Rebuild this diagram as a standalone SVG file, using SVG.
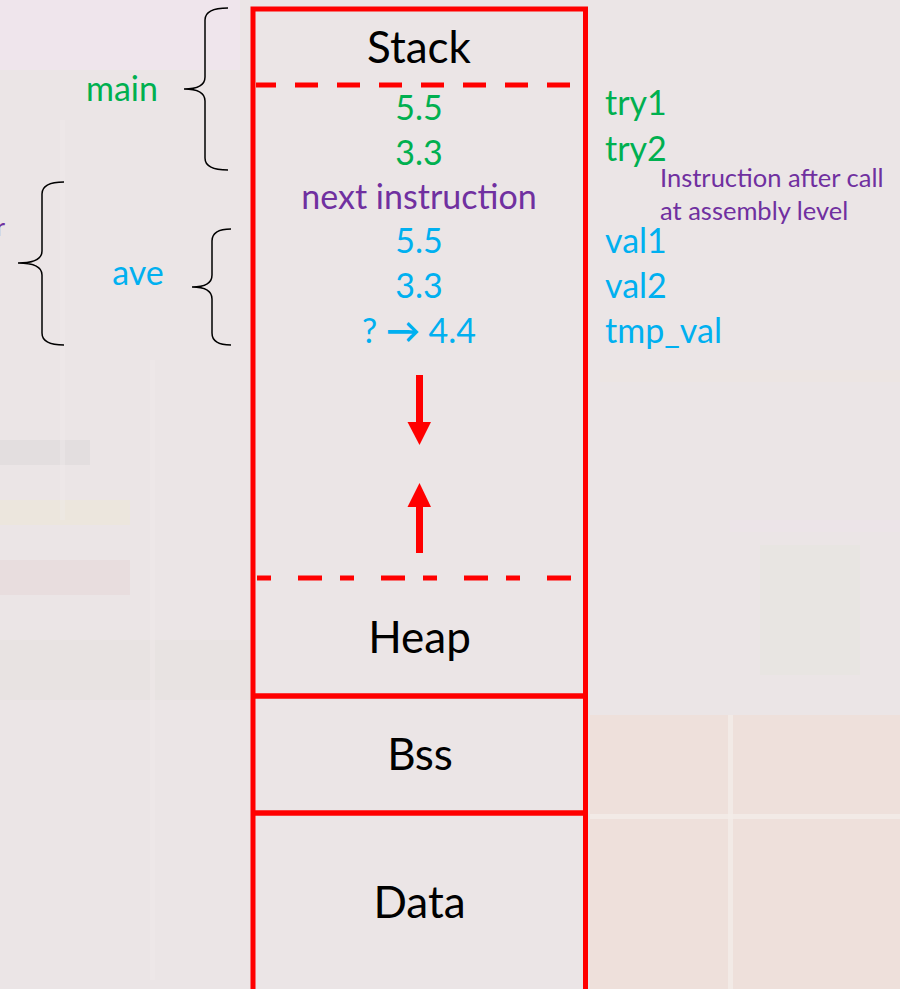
<svg xmlns="http://www.w3.org/2000/svg" width="900" height="989" viewBox="0 0 900 989">
<style>
.t{font-family:Lato,"Liberation Sans",sans-serif;text-anchor:middle}
.l{font-family:Lato,"Liberation Sans",sans-serif}
.box{font-size:44px;fill:#000}
.v{font-size:34px}
.s{font-size:25.5px}
.g{fill:#00B050}
.b{fill:#00B0F0}
.p{fill:#7030A0}
.red{stroke:#FF0000;fill:none}
.brace{stroke:#000;stroke-width:1.5;fill:none}
</style>
<g id="background">
<rect x="0" y="0" width="900" height="989" fill="#EBE5E6"/>
<rect x="0" y="0" width="240" height="70" fill="#F1E6EE" opacity="0.7"/>
<rect x="0" y="440" width="90" height="25" fill="#DAD5D6" opacity="0.45"/>
<rect x="0" y="500" width="130" height="25" fill="#EDE7D3" opacity="0.5"/>
<rect x="0" y="560" width="130" height="35" fill="#E6D6D6" opacity="0.5"/>
<rect x="0" y="640" width="250" height="60" fill="#E6E1DD" opacity="0.5"/>
<rect x="590" y="715" width="310" height="274" fill="#EEDFD8" opacity="0.85"/>
<rect x="590" y="814" width="310" height="5" fill="#F3ECE8" opacity="0.8"/>
<rect x="728" y="715" width="5" height="274" fill="#F3ECE8" opacity="0.8"/>
<rect x="760" y="545" width="100" height="130" fill="#E6E4E0" opacity="0.6"/>
<rect x="600" y="370" width="300" height="12" fill="#EEE6DF" opacity="0.5"/>
<rect x="730" y="520" width="170" height="12" fill="#EDE3E9" opacity="0.6"/>
<rect x="150" y="360" width="5" height="620" fill="#EFEAE9" opacity="0.5"/>
<rect x="60" y="120" width="5" height="400" fill="#EFEAEA" opacity="0.4"/>
</g>
<g id="memory">
<rect x="253" y="9" width="332.5" height="1000" class="red" stroke-width="5"/>
<line x1="253" y1="696" x2="585.5" y2="696" class="red" stroke-width="5.5"/>
<line x1="253" y1="813" x2="585.5" y2="813" class="red" stroke-width="5.5"/>
<line x1="256" y1="85" x2="574" y2="85" class="red" stroke-width="5" stroke-dasharray="20 19 23 19 23 19 23 19 23 19 23 19 23 19 23 19"/>
<line x1="257" y1="578" x2="574" y2="578" class="red" stroke-width="5" stroke-dasharray="14 27 24 18"/>
</g>
<g id="stack"><text x="419" y="63" class="t box">Stack</text></g>
<g id="heap"><text x="419.5" y="653" class="t box">Heap</text></g>
<g id="bss"><text x="420" y="770" class="t box">Bss</text></g>
<g id="data"><text x="419.5" y="918" class="t box">Data</text></g>
<g id="stack-values">
<text x="419" y="120" class="t v g">5.5</text>
<text x="419" y="165" class="t v g">3.3</text>
<text x="419" y="209" class="t v p">next instruction</text>
<text x="419" y="253" class="t v b">5.5</text>
<text x="419" y="298" class="t v b">3.3</text>
<text x="419" y="343" class="t v b">? <tspan font-weight="bold">→</tspan> 4.4</text>
</g>
<g id="names">
<text x="605" y="115" class="l v g">try1</text>
<text x="605" y="161" class="l v g">try2</text>
<text x="660" y="187" class="l s p">Instruction after call</text>
<text x="660" y="220" class="l s p">at assembly level</text>
<text x="605" y="253" class="l v b">val1</text>
<text x="605" y="298" class="l v b">val2</text>
<text x="605" y="343" class="l v b">tmp_val</text>
</g>
<g id="frames">
<text x="122" y="101" class="t v g">main</text>
<text x="138" y="285" class="t v b">ave</text>
<text x="5" y="236" class="l s p" text-anchor="end">r</text>
<path class="brace" d="M228 8 Q205 8 205 20 L205 77 Q205 89 184 89 Q205 89 205 101 L205 158 Q205 170 228 170"/>
<path class="brace" d="M64 182 Q42 182 42 194 L42 251 Q42 263 18 263 Q42 263 42 275 L42 333 Q42 345 64 345"/>
<path class="brace" d="M231 229 Q212 229 212 241 L212 275 Q212 287 192 287 Q212 287 212 299 L212 333 Q212 345 231 345"/>
</g>
<g id="connectors">
<rect x="416" y="375" width="7" height="49" fill="#FF0000"/>
<polygon points="407.5,422 431,422 419.5,445" fill="#FF0000"/>
<rect x="416" y="505" width="7" height="48" fill="#FF0000"/>
<polygon points="407.5,507 431,507 419.5,483" fill="#FF0000"/>
</g>
</svg>
